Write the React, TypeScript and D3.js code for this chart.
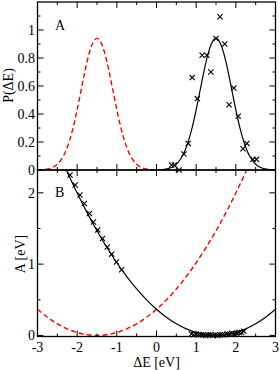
import React from "react";
import * as d3 from "d3";

// ---- data ----
const gridX = [-3.0,-2.9,-2.8,-2.7,-2.6,-2.5,-2.4,-2.3,-2.2,-2.1,-2.0,-1.9,-1.8,-1.7,-1.6,-1.5,-1.4,-1.3,-1.2,-1.1,-1.0,-0.9,-0.8,-0.7,-0.6,-0.5,-0.4,-0.3,-0.2,-0.1,0.0];
const redP = [0.001,0.002,0.005,0.010,0.021,0.041,0.075,0.127,0.203,0.305,0.430,0.570,0.710,0.830,0.911,0.940,0.911,0.830,0.710,0.570,0.430,0.305,0.203,0.127,0.075,0.041,0.021,0.010,0.005,0.002,0.001];
const blackX = [0.0,0.1,0.2,0.3,0.4,0.5,0.6,0.7,0.8,0.9,1.0,1.1,1.2,1.3,1.4,1.5,1.6,1.7,1.8,1.9,2.0,2.1,2.2,2.3,2.4,2.5,2.6,2.7,2.8,2.9,3.0];
const blackP = [0.001,0.002,0.005,0.010,0.021,0.041,0.075,0.127,0.203,0.305,0.430,0.570,0.710,0.830,0.911,0.940,0.911,0.830,0.710,0.570,0.430,0.305,0.203,0.127,0.075,0.041,0.021,0.010,0.005,0.002,0.001];
const pointsPX = [0.38,0.45,0.57,0.69,0.80,0.90,1.03,1.15,1.27,1.37,1.50,1.60,1.72,1.83,1.95,2.06,2.18,2.28,2.43,2.52];
const pointsPY = [0.036,0.036,0.0,0.114,0.19,0.66,0.51,0.82,0.82,0.70,0.94,1.095,0.90,0.466,0.585,0.384,0.152,0.19,0.076,0.076];

const parX = [-3,-2.75,-2.5,-2.25,-2,-1.75,-1.5,-1.25,-1,-0.75,-0.5,-0.25,0,0.25,0.5,0.75,1,1.25,1.5,1.75,2,2.25,2.5,2.75,3];
const redA = [0.367,0.255,0.163,0.092,0.041,0.010,0,0.010,0.041,0.092,0.163,0.255,0.367,0.499,0.652,0.825,1.019,1.233,1.467,1.722,1.997,2.292,2.608,2.944,3.301];
const blackA = [3.301,2.944,2.608,2.292,1.997,1.722,1.467,1.233,1.019,0.825,0.652,0.499,0.367,0.255,0.163,0.092,0.041,0.010,0,0.010,0.041,0.092,0.163,0.255,0.367];
const pointsAX = [-2.18,-2.05,-1.93,-1.82,-1.69,-1.59,-1.48,-1.36,-1.24,-1.13,-1.01,-0.88,
  0.88,0.94,1.00,1.06,1.12,1.18,1.24,1.30,1.36,1.42,1.48,1.54,1.60,1.66,1.72,1.78,1.84,1.90,1.96,2.02,2.08,2.14,2.20];
const pointsAY = [2.25,2.11,1.97,1.85,1.71,1.59,1.48,1.36,1.24,1.14,1.03,0.92,
  0.02,0.01,0.02,0.01,0.01,0.01,0.00,0.01,0.01,0.00,0.01,0.00,0.01,0.01,0.01,0.02,0.02,0.03,0.02,0.03,0.04,0.04,0.06];

const xTicks = [-3,-2,-1,0,1,2,3];
const xMinor = [-2.5,-1.5,-0.5,0.5,1.5,2.5];
const pTicks = [0,0.2,0.4,0.6,0.8,1];
const pMinor = [0.1,0.3,0.5,0.7,0.9,1.1];
const aTicks = [0,1,2];
const aMinor = [0.5,1.5];

const L = 37.5, R = 275.5, T1 = 2, B1 = 170, B2 = 336.5;
const FONT = "'Liberation Serif', 'DejaVu Serif', serif";
const TS: React.CSSProperties = { fontFamily: FONT };

export default function App() {
  const x = d3.scaleLinear().domain([-3, 3]).range([L, R]);
  const yP = d3.scaleLinear().domain([0, 1.2]).range([B1, T1]);
  const yA = d3.scaleLinear().domain([-0.015, 2.32]).range([B2, B1]);

  const lineP = d3.line<[number, number]>().x(d => x(d[0])).y(d => yP(d[1])).curve(d3.curveMonotoneX);
  const lineA = d3.line<[number, number]>().x(d => x(d[0])).y(d => yA(d[1])).curve(d3.curveCatmullRom);

  const redPD = lineP(gridX.map((v, i) => [v, redP[i]] as [number, number])) || "";
  const blackPD = lineP(blackX.map((v, i) => [v, blackP[i]] as [number, number])) || "";
  const redAD = lineA(parX.map((v, i) => [v, redA[i]] as [number, number])) || "";
  const blackAD = lineA(parX.map((v, i) => [v, blackA[i]] as [number, number])) || "";

  const cross = (cx: number, cy: number, k: string) => (
    <path key={k} d={`M${cx - 2.6},${cy - 2.6}L${cx + 2.6},${cy + 2.6}M${cx - 2.6},${cy + 2.6}L${cx + 2.6},${cy - 2.6}`} stroke="#000" strokeWidth={1.1} fill="none" />
  );

  const MAJ = 6, MIN = 3;
  const ticks: React.ReactNode[] = [];
  const tk = (x1: number, y1: number, x2: number, y2: number, k: string) =>
    ticks.push(<line key={k} x1={x1} y1={y1} x2={x2} y2={y2} stroke="#000" strokeWidth={1} />);

  xTicks.forEach((t, i) => {
    const px = x(t);
    tk(px, T1, px, T1 + MAJ, "xt1" + i);
    tk(px, B1 - MAJ, px, B1 + MAJ, "xm" + i);
    tk(px, B2, px, B2 - MAJ, "xb" + i);
  });
  xMinor.forEach((t, i) => {
    const px = x(t);
    tk(px, T1, px, T1 + MIN, "xnt1" + i);
    tk(px, B1 - MIN, px, B1 + MIN, "xnm" + i);
    tk(px, B2, px, B2 - MIN, "xnb" + i);
  });
  pTicks.forEach((t, i) => {
    const py = yP(t);
    tk(L, py, L + MAJ, py, "pl" + i);
    tk(R, py, R - MAJ, py, "pr" + i);
  });
  pMinor.forEach((t, i) => {
    const py = yP(t);
    tk(L, py, L + MIN, py, "pnl" + i);
    tk(R, py, R - MIN, py, "pnr" + i);
  });
  aTicks.forEach((t, i) => {
    const py = yA(t);
    tk(L, py, L + MAJ, py, "al" + i);
    tk(R, py, R - MAJ, py, "ar" + i);
  });
  aMinor.forEach((t, i) => {
    const py = yA(t);
    tk(L, py, L + MIN, py, "anl" + i);
    tk(R, py, R - MIN, py, "anr" + i);
  });

  return (
    <svg width={280} height={370} style={{ position: "absolute", left: 0, top: 0, background: "#fff", fontFamily: FONT }}>
      <defs>
        <clipPath id="c1"><rect x={L} y={T1} width={R - L} height={B1 - T1} /></clipPath>
        <clipPath id="c2"><rect x={L} y={B1} width={R - L} height={B2 - B1} /></clipPath>
      </defs>
      <rect x={0} y={0} width={280} height={370} fill="#fff" />

      <g clipPath="url(#c1)">
        <path d={redPD} fill="none" stroke="#ff0000" strokeWidth={1.4} strokeDasharray="5,3" />
        <path d={blackPD} fill="none" stroke="#000" strokeWidth={1.2} />
      </g>
      <g>
        {pointsPX.map((v, i) => cross(x(v), yP(pointsPY[i]), "pp" + i))}
      </g>

      <g clipPath="url(#c2)">
        <path d={redAD} fill="none" stroke="#ff0000" strokeWidth={1.4} strokeDasharray="5,3" />
        <path d={blackAD} fill="none" stroke="#000" strokeWidth={1.2} />
      </g>
      <g>
        {pointsAX.map((v, i) => cross(x(v), yA(pointsAY[i]), "pa" + i))}
      </g>

      <rect x={L} y={T1} width={R - L} height={B1 - T1} fill="none" stroke="#000" strokeWidth={1.3} />
      <rect x={L} y={B1} width={R - L} height={B2 - B1} fill="none" stroke="#000" strokeWidth={1.3} />
      {ticks}

      {pTicks.map((t, i) => (
        <text key={"pl" + i} x={L - 2.5} y={yP(t) + 5} textAnchor="end" fontSize={14} style={TS}>{String(t)}</text>
      ))}
      {aTicks.map((t, i) => (
        <text key={"al" + i} x={L - 2.5} y={yA(t) + 5} textAnchor="end" fontSize={14} style={TS}>{String(t)}</text>
      ))}
      {xTicks.map((t, i) => (
        <text key={"xl" + i} x={x(t)} y={352} textAnchor="middle" fontSize={14} style={TS}>{String(t)}</text>
      ))}

      <text x={x(0)} y={367} textAnchor="middle" fontSize={14} style={TS}>ΔE [eV]</text>
      <text transform={`translate(13,85.5) rotate(-90)`} textAnchor="middle" fontSize={14} style={TS}>P(ΔE)</text>
      <text transform={`translate(25,254) rotate(-90)`} textAnchor="middle" fontSize={14} style={TS}>A [eV]</text>

      <text x={55} y={30} fontSize={14} style={TS}>A</text>
      <text x={55} y={197} fontSize={14} style={TS}>B</text>
    </svg>
  );
}
